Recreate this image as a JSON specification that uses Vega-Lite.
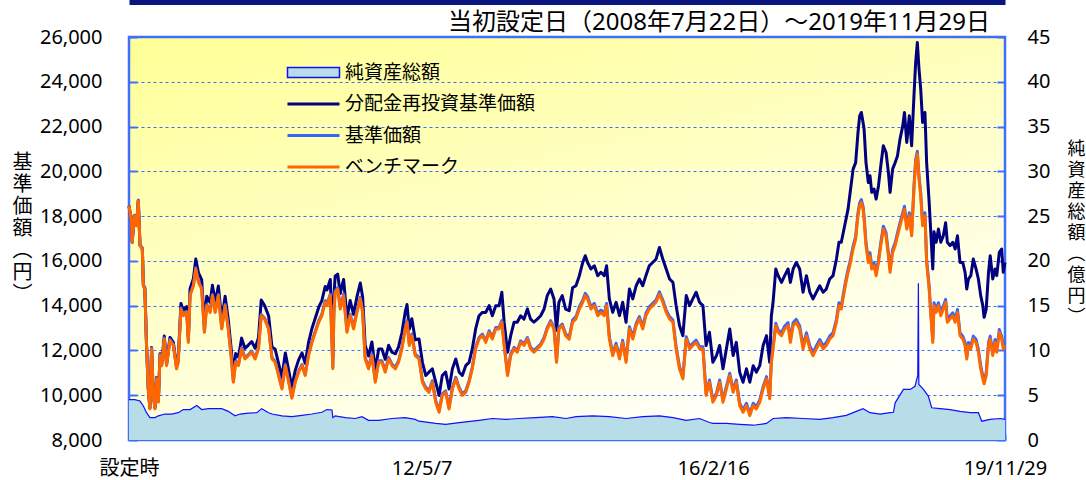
{
  "$schema": "https://vega.github.io/schema/vega-lite/v6.json",
  "width": 876,
  "height": 403,
  "autosize": {"type": "none"},
  "padding": {"left": 129, "top": 37, "right": 81, "bottom": 40},
  "background": "#ffffff",
  "title": {
    "text": "当初設定日（2008年7月22日）～2019年11月29日",
    "anchor": "end",
    "frame": "group",
    "font": "Noto Sans, Noto Sans CJK JP",
    "fontSize": 24,
    "fontWeight": "normal",
    "color": "#000000",
    "baseline": "alphabetic",
    "offset": 0,
    "dx": -15,
    "dy": 52
  },
  "config": {
    "view": {
      "stroke": "#3f6fff",
      "strokeWidth": 2.5,
      "fill": {
        "gradient": "linear",
        "x1": 0, "y1": 0, "x2": 0.5, "y2": 1,
        "stops": [
          {"offset": 0, "color": "#ffff96"},
          {"offset": 0.55, "color": "#ffffc8"},
          {"offset": 1, "color": "#fffff6"}
        ]
      }
    },
    "axis": {
      "labelFont": "Noto Sans, Noto Sans CJK JP",
      "labelFontSize": 20,
      "labelColor": "#000000",
      "titleFont": "Noto Sans CJK JP",
      "titleFontWeight": "normal",
      "titleColor": "#000000",
      "domain": false
    }
  },
  "datasets": {
    "prices": [
      {"d":"2008-07-22","nav":18460,"base":18460,"bm":18460},
      {"d":"2008-08-03","nav":17720,"base":17740,"bm":17720},
      {"d":"2008-08-06","nav":16830,"base":16850,"bm":16830},
      {"d":"2008-08-16","nav":18020,"base":18040,"bm":18010},
      {"d":"2008-08-27","nav":17580,"base":17600,"bm":17570},
      {"d":"2008-09-04","nav":18700,"base":18720,"bm":18680},
      {"d":"2008-09-12","nav":16700,"base":16720,"bm":16680},
      {"d":"2008-09-23","nav":16560,"base":16570,"bm":16530},
      {"d":"2008-09-28","nav":14920,"base":14930,"bm":14890},
      {"d":"2008-10-05","nav":14780,"base":14790,"bm":14740},
      {"d":"2008-10-13","nav":12250,"base":12260,"bm":12220},
      {"d":"2008-10-21","nav":10320,"base":10330,"bm":10280},
      {"d":"2008-10-29","nav":9430,"base":9440,"bm":9390},
      {"d":"2008-11-06","nav":12130,"base":12110,"bm":12070},
      {"d":"2008-11-14","nav":10040,"base":10030,"bm":9990},
      {"d":"2008-11-22","nav":9440,"base":9440,"bm":9390},
      {"d":"2008-11-30","nav":10790,"base":10780,"bm":10730},
      {"d":"2008-12-08","nav":9750,"base":9740,"bm":9690},
      {"d":"2008-12-16","nav":11850,"base":11820,"bm":11770},
      {"d":"2008-12-24","nav":11400,"base":11370,"bm":11320},
      {"d":"2009-01-05","nav":12640,"base":12560,"bm":12510},
      {"d":"2009-01-16","nav":11440,"base":11370,"bm":11320},
      {"d":"2009-02-01","nav":12580,"base":12490,"bm":12440},
      {"d":"2009-02-17","nav":12360,"base":12270,"bm":12220},
      {"d":"2009-03-04","nav":11320,"base":11230,"bm":11180},
      {"d":"2009-03-12","nav":11620,"base":11520,"bm":11470},
      {"d":"2009-03-25","nav":14100,"base":13900,"bm":13850},
      {"d":"2009-04-05","nav":13800,"base":13600,"bm":13550},
      {"d":"2009-04-21","nav":13960,"base":13750,"bm":13700},
      {"d":"2009-04-29","nav":12600,"base":12410,"bm":12360},
      {"d":"2009-05-07","nav":14760,"base":14500,"bm":14450},
      {"d":"2009-05-23","nav":15220,"base":14940,"bm":14890},
      {"d":"2009-06-03","nav":16080,"base":15690,"bm":15640},
      {"d":"2009-06-16","nav":15460,"base":15090,"bm":15040},
      {"d":"2009-07-01","nav":15160,"base":14790,"bm":14740},
      {"d":"2009-07-14","nav":13180,"base":12860,"bm":12810},
      {"d":"2009-07-25","nav":14420,"base":14050,"bm":14000},
      {"d":"2009-08-10","nav":14140,"base":13750,"bm":13700},
      {"d":"2009-08-21","nav":14910,"base":14500,"bm":14450},
      {"d":"2009-09-03","nav":14150,"base":13750,"bm":13700},
      {"d":"2009-09-18","nav":14880,"base":14500,"bm":14450},
      {"d":"2009-10-04","nav":13350,"base":13010,"bm":12960},
      {"d":"2009-10-20","nav":14420,"base":14050,"bm":14000},
      {"d":"2009-11-04","nav":13370,"base":13010,"bm":12960},
      {"d":"2009-11-17","nav":12150,"base":11820,"bm":11770},
      {"d":"2009-11-28","nav":10930,"base":10630,"bm":10580},
      {"d":"2009-12-09","nav":11860,"base":11520,"bm":11470},
      {"d":"2009-12-22","nav":11710,"base":11370,"bm":11320},
      {"d":"2010-01-06","nav":12550,"base":12120,"bm":12070},
      {"d":"2010-01-22","nav":12090,"base":11670,"bm":11620},
      {"d":"2010-02-07","nav":12240,"base":11820,"bm":11770},
      {"d":"2010-02-23","nav":12400,"base":11970,"bm":11920},
      {"d":"2010-03-11","nav":12100,"base":11670,"bm":11620},
      {"d":"2010-03-27","nav":12570,"base":12120,"bm":12070},
      {"d":"2010-04-09","nav":14250,"base":13600,"bm":13550},
      {"d":"2010-04-25","nav":14010,"base":13450,"bm":13400},
      {"d":"2010-05-14","nav":13540,"base":13010,"bm":12960},
      {"d":"2010-05-30","nav":12150,"base":11670,"bm":11620},
      {"d":"2010-06-14","nav":12050,"base":11520,"bm":11470},
      {"d":"2010-06-30","nav":11420,"base":10930,"bm":10880},
      {"d":"2010-07-16","nav":10800,"base":10330,"bm":10280},
      {"d":"2010-08-01","nav":11890,"base":11370,"bm":11320},
      {"d":"2010-08-17","nav":11110,"base":10630,"bm":10580},
      {"d":"2010-09-01","nav":10360,"base":9920,"bm":9870},
      {"d":"2010-09-17","nav":11110,"base":10630,"bm":10580},
      {"d":"2010-10-03","nav":11580,"base":11080,"bm":11030},
      {"d":"2010-10-19","nav":11890,"base":11370,"bm":11320},
      {"d":"2010-11-03","nav":11420,"base":10930,"bm":10880},
      {"d":"2010-11-19","nav":12360,"base":11820,"bm":11770},
      {"d":"2010-12-05","nav":12980,"base":12410,"bm":12360},
      {"d":"2010-12-21","nav":13450,"base":12860,"bm":12810},
      {"d":"2011-01-06","nav":13920,"base":13330,"bm":13260},
      {"d":"2011-01-21","nav":14230,"base":13620,"bm":13550},
      {"d":"2011-02-06","nav":14860,"base":14220,"bm":14150},
      {"d":"2011-02-14","nav":14700,"base":14070,"bm":14000},
      {"d":"2011-03-02","nav":15170,"base":14520,"bm":14450},
      {"d":"2011-03-14","nav":11730,"base":11250,"bm":11180},
      {"d":"2011-03-19","nav":14390,"base":13770,"bm":13700},
      {"d":"2011-03-25","nav":15320,"base":14660,"bm":14590},
      {"d":"2011-04-06","nav":15410,"base":14810,"bm":14740},
      {"d":"2011-04-18","nav":14540,"base":13920,"bm":13850},
      {"d":"2011-05-04","nav":15170,"base":14520,"bm":14450},
      {"d":"2011-05-20","nav":13450,"base":12880,"bm":12810},
      {"d":"2011-06-04","nav":14230,"base":13620,"bm":13550},
      {"d":"2011-06-20","nav":13610,"base":13030,"bm":12960},
      {"d":"2011-07-06","nav":14390,"base":13770,"bm":13700},
      {"d":"2011-07-22","nav":15010,"base":14370,"bm":14300},
      {"d":"2011-08-02","nav":14390,"base":13770,"bm":13700},
      {"d":"2011-08-14","nav":12220,"base":11690,"bm":11620},
      {"d":"2011-08-30","nav":11750,"base":11250,"bm":11180},
      {"d":"2011-09-15","nav":12380,"base":11840,"bm":11770},
      {"d":"2011-10-01","nav":11130,"base":10650,"bm":10580},
      {"d":"2011-10-17","nav":12070,"base":11540,"bm":11470},
      {"d":"2011-11-01","nav":12070,"base":11540,"bm":11470},
      {"d":"2011-11-17","nav":11600,"base":11100,"bm":11030},
      {"d":"2011-12-03","nav":12230,"base":11690,"bm":11620},
      {"d":"2011-12-19","nav":11920,"base":11390,"bm":11320},
      {"d":"2012-01-04","nav":11850,"base":11250,"bm":11180},
      {"d":"2012-01-19","nav":12160,"base":11540,"bm":11470},
      {"d":"2012-02-04","nav":12790,"base":12140,"bm":12070},
      {"d":"2012-02-20","nav":13740,"base":13030,"bm":12960},
      {"d":"2012-02-28","nav":14050,"base":13330,"bm":13260},
      {"d":"2012-03-10","nav":12950,"base":12290,"bm":12220},
      {"d":"2012-03-22","nav":13420,"base":12730,"bm":12660},
      {"d":"2012-04-07","nav":12480,"base":11840,"bm":11770},
      {"d":"2012-04-25","nav":12510,"base":11690,"bm":11620},
      {"d":"2012-05-11","nav":11470,"base":10650,"bm":10580},
      {"d":"2012-05-27","nav":10880,"base":10350,"bm":10280},
      {"d":"2012-06-11","nav":11030,"base":10200,"bm":10130},
      {"d":"2012-06-27","nav":11180,"base":10650,"bm":10580},
      {"d":"2012-07-13","nav":10580,"base":9760,"bm":9690},
      {"d":"2012-07-29","nav":9990,"base":9310,"bm":9240},
      {"d":"2012-08-13","nav":10880,"base":10060,"bm":9990},
      {"d":"2012-08-29","nav":11030,"base":10200,"bm":10130},
      {"d":"2012-09-14","nav":10280,"base":9460,"bm":9390},
      {"d":"2012-09-30","nav":11180,"base":10350,"bm":10280},
      {"d":"2012-10-16","nav":11620,"base":10800,"bm":10730},
      {"d":"2012-11-01","nav":11030,"base":10350,"bm":10280},
      {"d":"2012-11-16","nav":10880,"base":10060,"bm":9990},
      {"d":"2012-12-02","nav":11320,"base":10200,"bm":10130},
      {"d":"2012-12-18","nav":11470,"base":10650,"bm":10580},
      {"d":"2013-01-02","nav":12070,"base":11250,"bm":11180},
      {"d":"2013-01-18","nav":12960,"base":12140,"bm":12070},
      {"d":"2013-02-03","nav":13550,"base":12580,"bm":12510},
      {"d":"2013-02-19","nav":13700,"base":12730,"bm":12660},
      {"d":"2013-03-07","nav":13700,"base":12430,"bm":12360},
      {"d":"2013-03-23","nav":14000,"base":12880,"bm":12810},
      {"d":"2013-04-07","nav":13550,"base":12580,"bm":12510},
      {"d":"2013-04-23","nav":14000,"base":13030,"bm":12960},
      {"d":"2013-05-09","nav":14000,"base":13030,"bm":12960},
      {"d":"2013-05-22","nav":14600,"base":13330,"bm":13260},
      {"d":"2013-06-02","nav":13260,"base":12290,"bm":12220},
      {"d":"2013-06-18","nav":11920,"base":10950,"bm":10880},
      {"d":"2013-07-03","nav":12660,"base":11840,"bm":11770},
      {"d":"2013-07-19","nav":13260,"base":12140,"bm":12070},
      {"d":"2013-08-03","nav":13260,"base":11990,"bm":11920},
      {"d":"2013-08-19","nav":13550,"base":12430,"bm":12360},
      {"d":"2013-09-04","nav":13400,"base":12290,"bm":12220},
      {"d":"2013-09-20","nav":13850,"base":12580,"bm":12510},
      {"d":"2013-10-05","nav":13400,"base":12140,"bm":12070},
      {"d":"2013-10-21","nav":13260,"base":11990,"bm":11920},
      {"d":"2013-11-06","nav":13400,"base":12140,"bm":12070},
      {"d":"2013-11-22","nav":13550,"base":12290,"bm":12220},
      {"d":"2013-12-08","nav":13850,"base":12580,"bm":12510},
      {"d":"2013-12-23","nav":14450,"base":13030,"bm":12960},
      {"d":"2014-01-08","nav":14740,"base":13330,"bm":13260},
      {"d":"2014-01-24","nav":14300,"base":13030,"bm":12960},
      {"d":"2014-02-05","nav":12900,"base":11540,"bm":11470},
      {"d":"2014-02-16","nav":14150,"base":13030,"bm":12960},
      {"d":"2014-03-04","nav":14450,"base":13180,"bm":13110},
      {"d":"2014-03-20","nav":13850,"base":12730,"bm":12660},
      {"d":"2014-04-06","nav":13780,"base":12600,"bm":12500},
      {"d":"2014-04-22","nav":14800,"base":13360,"bm":13260},
      {"d":"2014-05-08","nav":14890,"base":13510,"bm":13410},
      {"d":"2014-05-24","nav":15340,"base":13950,"bm":13850},
      {"d":"2014-06-09","nav":15930,"base":14250,"bm":14150},
      {"d":"2014-06-21","nav":16230,"base":14550,"bm":14450},
      {"d":"2014-07-02","nav":15930,"base":14400,"bm":14300},
      {"d":"2014-07-18","nav":15640,"base":13950,"bm":13850},
      {"d":"2014-08-03","nav":15780,"base":14100,"bm":14000},
      {"d":"2014-08-19","nav":15340,"base":13650,"bm":13550},
      {"d":"2014-09-03","nav":15490,"base":13800,"bm":13700},
      {"d":"2014-09-19","nav":15340,"base":13650,"bm":13550},
      {"d":"2014-09-30","nav":15780,"base":14100,"bm":14000},
      {"d":"2014-10-13","nav":14300,"base":12610,"bm":12510},
      {"d":"2014-10-29","nav":13700,"base":11870,"bm":11770},
      {"d":"2014-11-14","nav":14150,"base":12320,"bm":12220},
      {"d":"2014-11-30","nav":13550,"base":11720,"bm":11620},
      {"d":"2014-12-15","nav":14150,"base":12460,"bm":12360},
      {"d":"2014-12-31","nav":13260,"base":11570,"bm":11470},
      {"d":"2015-01-16","nav":14740,"base":13060,"bm":12960},
      {"d":"2015-02-01","nav":14300,"base":12610,"bm":12510},
      {"d":"2015-02-17","nav":14890,"base":13210,"bm":13110},
      {"d":"2015-03-04","nav":15190,"base":13510,"bm":13410},
      {"d":"2015-03-20","nav":14890,"base":13060,"bm":12960},
      {"d":"2015-04-04","nav":15340,"base":13650,"bm":13550},
      {"d":"2015-04-20","nav":15780,"base":13950,"bm":13850},
      {"d":"2015-05-06","nav":15930,"base":14100,"bm":14000},
      {"d":"2015-05-22","nav":16080,"base":14250,"bm":14150},
      {"d":"2015-06-07","nav":16600,"base":14620,"bm":14520},
      {"d":"2015-06-23","nav":16080,"base":14250,"bm":14150},
      {"d":"2015-07-09","nav":15640,"base":13800,"bm":13700},
      {"d":"2015-07-25","nav":15190,"base":13510,"bm":13410},
      {"d":"2015-08-10","nav":15040,"base":13360,"bm":13260},
      {"d":"2015-08-25","nav":14000,"base":12170,"bm":12070},
      {"d":"2015-09-10","nav":13110,"base":11280,"bm":11180},
      {"d":"2015-09-26","nav":12660,"base":10830,"bm":10730},
      {"d":"2015-10-12","nav":14450,"base":12610,"bm":12510},
      {"d":"2015-10-28","nav":14000,"base":12170,"bm":12070},
      {"d":"2015-11-12","nav":14300,"base":12320,"bm":12220},
      {"d":"2015-11-28","nav":14600,"base":12460,"bm":12360},
      {"d":"2015-12-14","nav":14150,"base":12170,"bm":12070},
      {"d":"2015-12-30","nav":14000,"base":12170,"bm":12070},
      {"d":"2016-01-14","nav":12220,"base":10090,"bm":9990},
      {"d":"2016-01-30","nav":12810,"base":10680,"bm":10580},
      {"d":"2016-02-15","nav":11470,"base":9790,"bm":9690},
      {"d":"2016-03-03","nav":11770,"base":10090,"bm":9990},
      {"d":"2016-03-18","nav":12220,"base":10680,"bm":10580},
      {"d":"2016-04-03","nav":11180,"base":9790,"bm":9690},
      {"d":"2016-04-19","nav":12070,"base":10380,"bm":10280},
      {"d":"2016-05-05","nav":12960,"base":10980,"bm":10880},
      {"d":"2016-05-21","nav":11770,"base":10230,"bm":10130},
      {"d":"2016-06-05","nav":12360,"base":10680,"bm":10580},
      {"d":"2016-06-21","nav":11030,"base":9640,"bm":9540},
      {"d":"2016-07-07","nav":10580,"base":9340,"bm":9240},
      {"d":"2016-07-23","nav":11180,"base":9640,"bm":9540},
      {"d":"2016-08-08","nav":10580,"base":9190,"bm":9090},
      {"d":"2016-08-24","nav":11320,"base":9640,"bm":9540},
      {"d":"2016-09-08","nav":11030,"base":9490,"bm":9390},
      {"d":"2016-09-24","nav":11320,"base":9790,"bm":9690},
      {"d":"2016-10-10","nav":12220,"base":10380,"bm":10280},
      {"d":"2016-10-26","nav":12660,"base":10830,"bm":10730},
      {"d":"2016-11-10","nav":11470,"base":9940,"bm":9840},
      {"d":"2016-11-18","nav":13550,"base":11570,"bm":11470},
      {"d":"2016-11-26","nav":14150,"base":12170,"bm":12070},
      {"d":"2016-12-09","nav":15640,"base":13210,"bm":13110},
      {"d":"2016-12-20","nav":15340,"base":12910,"bm":12810},
      {"d":"2017-01-05","nav":15040,"base":12790,"bm":12660},
      {"d":"2017-01-20","nav":15340,"base":13090,"bm":12960},
      {"d":"2017-02-05","nav":15640,"base":13240,"bm":13110},
      {"d":"2017-02-16","nav":15040,"base":12490,"bm":12360},
      {"d":"2017-03-01","nav":15640,"base":13240,"bm":13110},
      {"d":"2017-03-16","nav":15930,"base":13390,"bm":13260},
      {"d":"2017-04-01","nav":15640,"base":13090,"bm":12960},
      {"d":"2017-04-17","nav":14600,"base":12200,"bm":12070},
      {"d":"2017-05-03","nav":15340,"base":12790,"bm":12660},
      {"d":"2017-05-19","nav":14600,"base":12200,"bm":12070},
      {"d":"2017-06-03","nav":14300,"base":11900,"bm":11770},
      {"d":"2017-06-19","nav":14600,"base":12200,"bm":12070},
      {"d":"2017-07-05","nav":14890,"base":12490,"bm":12360},
      {"d":"2017-07-21","nav":14600,"base":12200,"bm":12070},
      {"d":"2017-08-05","nav":14740,"base":12350,"bm":12220},
      {"d":"2017-08-21","nav":15190,"base":12640,"bm":12510},
      {"d":"2017-09-06","nav":15340,"base":12790,"bm":12660},
      {"d":"2017-09-22","nav":16080,"base":13390,"bm":13260},
      {"d":"2017-10-04","nav":16830,"base":14130,"bm":14000},
      {"d":"2017-10-15","nav":16830,"base":13980,"bm":13850},
      {"d":"2017-10-31","nav":17570,"base":14870,"bm":14740},
      {"d":"2017-11-16","nav":18310,"base":15620,"bm":15490},
      {"d":"2017-11-24","nav":18910,"base":15910,"bm":15780},
      {"d":"2017-12-10","nav":20100,"base":16660,"bm":16530},
      {"d":"2017-12-22","nav":20390,"base":17100,"bm":16970},
      {"d":"2018-01-02","nav":21730,"base":18150,"bm":18020},
      {"d":"2018-01-10","nav":22480,"base":18590,"bm":18460},
      {"d":"2018-01-18","nav":22630,"base":18740,"bm":18610},
      {"d":"2018-01-26","nav":22180,"base":18440,"bm":18310},
      {"d":"2018-01-31","nav":21880,"base":18000,"bm":17870},
      {"d":"2018-02-09","nav":20390,"base":16810,"bm":16680},
      {"d":"2018-02-20","nav":19500,"base":16060,"bm":15930},
      {"d":"2018-02-28","nav":19800,"base":16360,"bm":16230},
      {"d":"2018-03-08","nav":19060,"base":15770,"bm":15640},
      {"d":"2018-03-19","nav":19210,"base":15910,"bm":15780},
      {"d":"2018-03-29","nav":18760,"base":15470,"bm":15340},
      {"d":"2018-04-09","nav":19350,"base":16060,"bm":15930},
      {"d":"2018-04-20","nav":20250,"base":16810,"bm":16680},
      {"d":"2018-05-02","nav":21140,"base":17550,"bm":17420},
      {"d":"2018-05-15","nav":20840,"base":17250,"bm":17120},
      {"d":"2018-05-26","nav":19950,"base":16360,"bm":16230},
      {"d":"2018-06-03","nav":19060,"base":15620,"bm":15490},
      {"d":"2018-06-15","nav":20100,"base":16510,"bm":16380},
      {"d":"2018-06-27","nav":20390,"base":16810,"bm":16680},
      {"d":"2018-07-08","nav":20690,"base":17250,"bm":17120},
      {"d":"2018-07-20","nav":21440,"base":17700,"bm":17570},
      {"d":"2018-08-02","nav":22030,"base":18150,"bm":18020},
      {"d":"2018-08-10","nav":22630,"base":18440,"bm":18310},
      {"d":"2018-08-21","nav":21290,"base":17550,"bm":17420},
      {"d":"2018-09-02","nav":22480,"base":18150,"bm":18020},
      {"d":"2018-09-13","nav":21140,"base":17250,"bm":17120},
      {"d":"2018-09-24","nav":23370,"base":19340,"bm":19210},
      {"d":"2018-10-02","nav":24860,"base":20520,"bm":20390},
      {"d":"2018-10-10","nav":25750,"base":20900,"bm":20770},
      {"d":"2018-10-18","nav":24560,"base":19780,"bm":19650},
      {"d":"2018-10-26","nav":23670,"base":19040,"bm":18910},
      {"d":"2018-11-04","nav":22180,"base":17700,"bm":17570},
      {"d":"2018-11-15","nav":22630,"base":18150,"bm":18020},
      {"d":"2018-11-23","nav":20390,"base":16060,"bm":15930},
      {"d":"2018-12-05","nav":18610,"base":14870,"bm":14740},
      {"d":"2018-12-12","nav":17400,"base":13830,"bm":13700},
      {"d":"2018-12-22","nav":15640,"base":12490,"bm":12360},
      {"d":"2018-12-28","nav":17300,"base":14130,"bm":14000},
      {"d":"2019-01-07","nav":16830,"base":13830,"bm":13700},
      {"d":"2019-01-18","nav":17420,"base":14130,"bm":14000},
      {"d":"2019-01-29","nav":16830,"base":13680,"bm":13550},
      {"d":"2019-02-10","nav":17120,"base":13980,"bm":13850},
      {"d":"2019-02-21","nav":17700,"base":14280,"bm":14150},
      {"d":"2019-03-01","nav":16830,"base":13390,"bm":13260},
      {"d":"2019-03-14","nav":16680,"base":13540,"bm":13410},
      {"d":"2019-03-27","nav":16830,"base":13680,"bm":13550},
      {"d":"2019-04-07","nav":16530,"base":13390,"bm":13260},
      {"d":"2019-04-18","nav":17120,"base":13830,"bm":13700},
      {"d":"2019-04-30","nav":15930,"base":12790,"bm":12660},
      {"d":"2019-05-13","nav":15930,"base":12640,"bm":12510},
      {"d":"2019-05-24","nav":15490,"base":12350,"bm":12220},
      {"d":"2019-06-01","nav":14740,"base":11750,"bm":11620},
      {"d":"2019-06-09","nav":15190,"base":12350,"bm":12220},
      {"d":"2019-06-20","nav":15340,"base":12200,"bm":12070},
      {"d":"2019-07-02","nav":16080,"base":12640,"bm":12510},
      {"d":"2019-07-15","nav":15640,"base":12490,"bm":12360},
      {"d":"2019-07-26","nav":15190,"base":12050,"bm":11920},
      {"d":"2019-08-06","nav":14450,"base":11310,"bm":11180},
      {"d":"2019-08-16","nav":14000,"base":10860,"bm":10730},
      {"d":"2019-08-22","nav":13480,"base":10640,"bm":10510},
      {"d":"2019-09-01","nav":13850,"base":11010,"bm":10880},
      {"d":"2019-09-12","nav":15490,"base":12350,"bm":12220},
      {"d":"2019-09-20","nav":16230,"base":12640,"bm":12510},
      {"d":"2019-10-02","nav":15190,"base":11900,"bm":11770},
      {"d":"2019-10-13","nav":15640,"base":12490,"bm":12360},
      {"d":"2019-10-21","nav":15340,"base":12050,"bm":11920},
      {"d":"2019-11-02","nav":16380,"base":12940,"bm":12810},
      {"d":"2019-11-13","nav":16530,"base":12640,"bm":12510},
      {"d":"2019-11-21","nav":15490,"base":12200,"bm":12070},
      {"d":"2019-11-29","nav":15930,"base":12350,"bm":12220}
    ],
    "assets": [
      {"d":"2008-07-22","na":4.5},{"d":"2008-08-19","na":4.5},{"d":"2008-09-12","na":4.35},
      {"d":"2008-09-28","na":3.8},{"d":"2008-10-13","na":3.05},{"d":"2008-10-29","na":2.5},
      {"d":"2008-11-22","na":2.5},{"d":"2008-12-08","na":2.7},{"d":"2009-01-08","na":2.9},
      {"d":"2009-02-09","na":2.9},{"d":"2009-03-12","na":3.05},{"d":"2009-04-05","na":3.4},
      {"d":"2009-05-07","na":3.4},{"d":"2009-06-08","na":3.85},{"d":"2009-07-01","na":3.4},
      {"d":"2009-08-02","na":3.5},{"d":"2009-09-03","na":3.5},{"d":"2009-10-04","na":3.5},
      {"d":"2009-11-04","na":3.2},{"d":"2009-12-06","na":2.7},{"d":"2009-12-30","na":2.9},
      {"d":"2010-02-07","na":3.0},{"d":"2010-03-19","na":3.05},{"d":"2010-04-11","na":3.5},
      {"d":"2010-05-14","na":3.05},{"d":"2010-05-30","na":2.9},{"d":"2010-07-16","na":2.7},
      {"d":"2010-09-01","na":2.6},{"d":"2010-10-19","na":2.75},{"d":"2010-12-05","na":2.9},
      {"d":"2011-01-21","na":3.1},{"d":"2011-02-14","na":3.4},{"d":"2011-03-10","na":3.35},
      {"d":"2011-03-14","na":2.5},{"d":"2011-03-25","na":2.7},{"d":"2011-05-12","na":2.5},
      {"d":"2011-06-28","na":2.4},{"d":"2011-07-30","na":2.6},{"d":"2011-08-30","na":2.2},
      {"d":"2011-10-17","na":2.2},{"d":"2011-12-19","na":2.4},{"d":"2012-02-20","na":2.5},
      {"d":"2012-04-07","na":2.3},{"d":"2012-04-25","na":2.1},{"d":"2012-07-13","na":1.85},
      {"d":"2012-08-29","na":1.75},{"d":"2012-11-01","na":1.95},{"d":"2013-02-03","na":2.2},
      {"d":"2013-04-07","na":2.4},{"d":"2013-06-10","na":2.3},{"d":"2013-08-11","na":2.4},
      {"d":"2013-10-29","na":2.5},{"d":"2014-01-16","na":2.6},{"d":"2014-03-22","na":2.4},
      {"d":"2014-05-08","na":2.6},{"d":"2014-07-26","na":2.7},{"d":"2014-10-13","na":2.6},
      {"d":"2014-12-31","na":2.4},{"d":"2015-03-20","na":2.6},{"d":"2015-06-07","na":2.7},
      {"d":"2015-08-10","na":2.5},{"d":"2015-10-12","na":2.2},{"d":"2015-12-14","na":2.4},
      {"d":"2016-01-30","na":1.95},{"d":"2016-02-16","na":1.85},{"d":"2016-04-19","na":1.85},
      {"d":"2016-06-21","na":1.75},{"d":"2016-08-24","na":1.65},{"d":"2016-10-26","na":1.85},
      {"d":"2016-11-26","na":2.4},{"d":"2017-01-28","na":2.5},{"d":"2017-04-17","na":2.4},
      {"d":"2017-07-05","na":2.3},{"d":"2017-09-06","na":2.5},{"d":"2017-11-08","na":2.75},
      {"d":"2017-12-25","na":3.2},{"d":"2018-01-26","na":3.5},{"d":"2018-02-28","na":3.05},
      {"d":"2018-04-17","na":2.9},{"d":"2018-06-03","na":3.05},{"d":"2018-06-19","na":3.1},
      {"d":"2018-06-27","na":4.15},{"d":"2018-08-05","na":5.65},{"d":"2018-09-06","na":5.65},
      {"d":"2018-09-29","na":6.0},{"d":"2018-10-12","na":7.2},{"d":"2018-10-15","na":17.5},
      {"d":"2018-10-17","na":6.2},{"d":"2018-11-08","na":5.65},{"d":"2018-12-01","na":4.9},
      {"d":"2018-12-17","na":3.6},{"d":"2019-01-26","na":3.5},{"d":"2019-03-14","na":3.4},
      {"d":"2019-04-30","na":3.2},{"d":"2019-06-17","na":3.05},{"d":"2019-07-26","na":3.05},
      {"d":"2019-08-11","na":2.1},{"d":"2019-09-20","na":2.3},{"d":"2019-11-06","na":2.4},
      {"d":"2019-11-29","na":2.3}
    ]
  },
  "layer": [
    {
      "data": {"name": "assets"},
      "encoding": {
        "x": {
          "field": "d", "type": "temporal",
          "scale": {"type": "utc", "domain": [{"year": 2008, "month": 7, "date": 22, "utc": true}, {"year": 2019, "month": 11, "date": 29, "utc": true}]},
          "axis": {"orient": "top", "domain": true, "domainColor": "#0a1680", "domainWidth": 5, "offset": 35, "ticks": false, "labels": false, "grid": false, "title": null}
        },
        "y": {
          "field": "na", "type": "quantitative",
          "scale": {"domain": [0, 45], "nice": false, "zero": true},
          "axis": {
            "orient": "right",
            "values": [0, 5, 10, 15, 20, 25, 30, 35, 40, 45],
            "grid": false,
            "tickSize": -8, "tickColor": "#3f6fff", "tickWidth": 2,
            "labelPadding": 30,
            "title": ["純", "資", "産", "総", "額", "︵", "億", "円", "︶"],
            "titleAngle": 0, "titleFontSize": 18, "titleLineHeight": 21,
            "titleX": 71, "titleY": 103, "titleAlign": "center", "titleBaseline": "top"
          }
        }
      },
      "layer": [
        {"mark": {"type": "area", "fill": "#b7dde8", "opacity": 1}},
        {"mark": {"type": "line", "stroke": "#1010ff", "strokeWidth": 1.2}}
      ]
    },
    {
      "data": {"name": "prices"},
      "transform": [{"fold": ["nav", "base", "bm"], "as": ["s", "v"]}],
      "mark": {"type": "line", "strokeWidth": 3, "strokeJoin": "round"},
      "encoding": {
        "x": {
          "field": "d", "type": "temporal",
          "scale": {"type": "utc", "domain": [{"year": 2008, "month": 7, "date": 22, "utc": true}, {"year": 2019, "month": 11, "date": 29, "utc": true}]},
          "axis": {
            "orient": "bottom",
            "values": [
              {"year": 2008, "month": 7, "date": 22, "utc": true},
              {"year": 2012, "month": 5, "date": 7, "utc": true},
              {"year": 2016, "month": 2, "date": 16, "utc": true},
              {"year": 2019, "month": 11, "date": 29, "utc": true}
            ],
            "labelExpr": "utcFormat(datum.value, '%Y') == '2008' ? '設定時' : utcFormat(datum.value, '%y/%-m/%-d')",
            "grid": false,
            "tickSize": -6, "tickColor": "#3f6fff", "tickWidth": 2,
            "labelPadding": 24,
            "labelFlush": false, "labelOverlap": false,
            "title": null
          }
        },
        "y": {
          "field": "v", "type": "quantitative",
          "scale": {"domain": [8000, 26000], "nice": false, "zero": false},
          "axis": {
            "orient": "left",
            "values": [8000, 10000, 12000, 14000, 16000, 18000, 20000, 22000, 24000, 26000],
            "format": ",.0f",
            "grid": true, "gridColor": "#3a6cff", "gridDash": [3, 3], "gridWidth": 1,
            "tickSize": -8, "tickColor": "#3f6fff", "tickWidth": 2,
            "labelPadding": 35,
            "title": ["基", "準", "価", "額", "︵", "円", "︶"],
            "titleAngle": 0, "titleFontSize": 20, "titleLineHeight": 22,
            "titleX": -107, "titleY": 115, "titleAlign": "center", "titleBaseline": "top"
          }
        },
        "color": {
          "field": "s", "type": "nominal",
          "scale": {"domain": ["na", "nav", "base", "bm"], "range": ["#1010ff", "#000080", "#3366ff", "#ff6600"]},
          "legend": {
            "title": null,
            "orient": "none",
            "legendX": 158,
            "legendY": 26,
            "padding": 0,
            "symbolType": "M-5.2,0H5.2",
            "symbolSize": 100,
            "symbolStrokeWidth": 3,
            "symbolOffset": 17,
            "labelOffset": 22,
            "labelFont": "Noto Sans CJK JP",
            "labelFontSize": 19,
            "labelColor": "#000000",
            "labelLimit": 400,
            "rowPadding": 11.5,
            "labelExpr": "datum.value == 'na' ? '純資産総額' : datum.value == 'nav' ? '分配金再投資基準価額' : datum.value == 'base' ? '基準価額' : 'ベンチマーク'",
            "encode": {
              "symbols": {
                "update": {
                  "shape": {"signal": "datum.value == 'na' ? 'M-5.2,-1H5.2V1H-5.2Z' : 'M-5.2,0H5.2'"},
                  "fill": {"signal": "datum.value == 'na' ? '#b7dde8' : 'transparent'"},
                  "strokeWidth": {"signal": "datum.value == 'na' ? 1.5 : 3"}
                }
              }
            }
          }
        }
      }
    }
  ],
  "resolve": {"scale": {"y": "independent", "x": "independent"}}
}
